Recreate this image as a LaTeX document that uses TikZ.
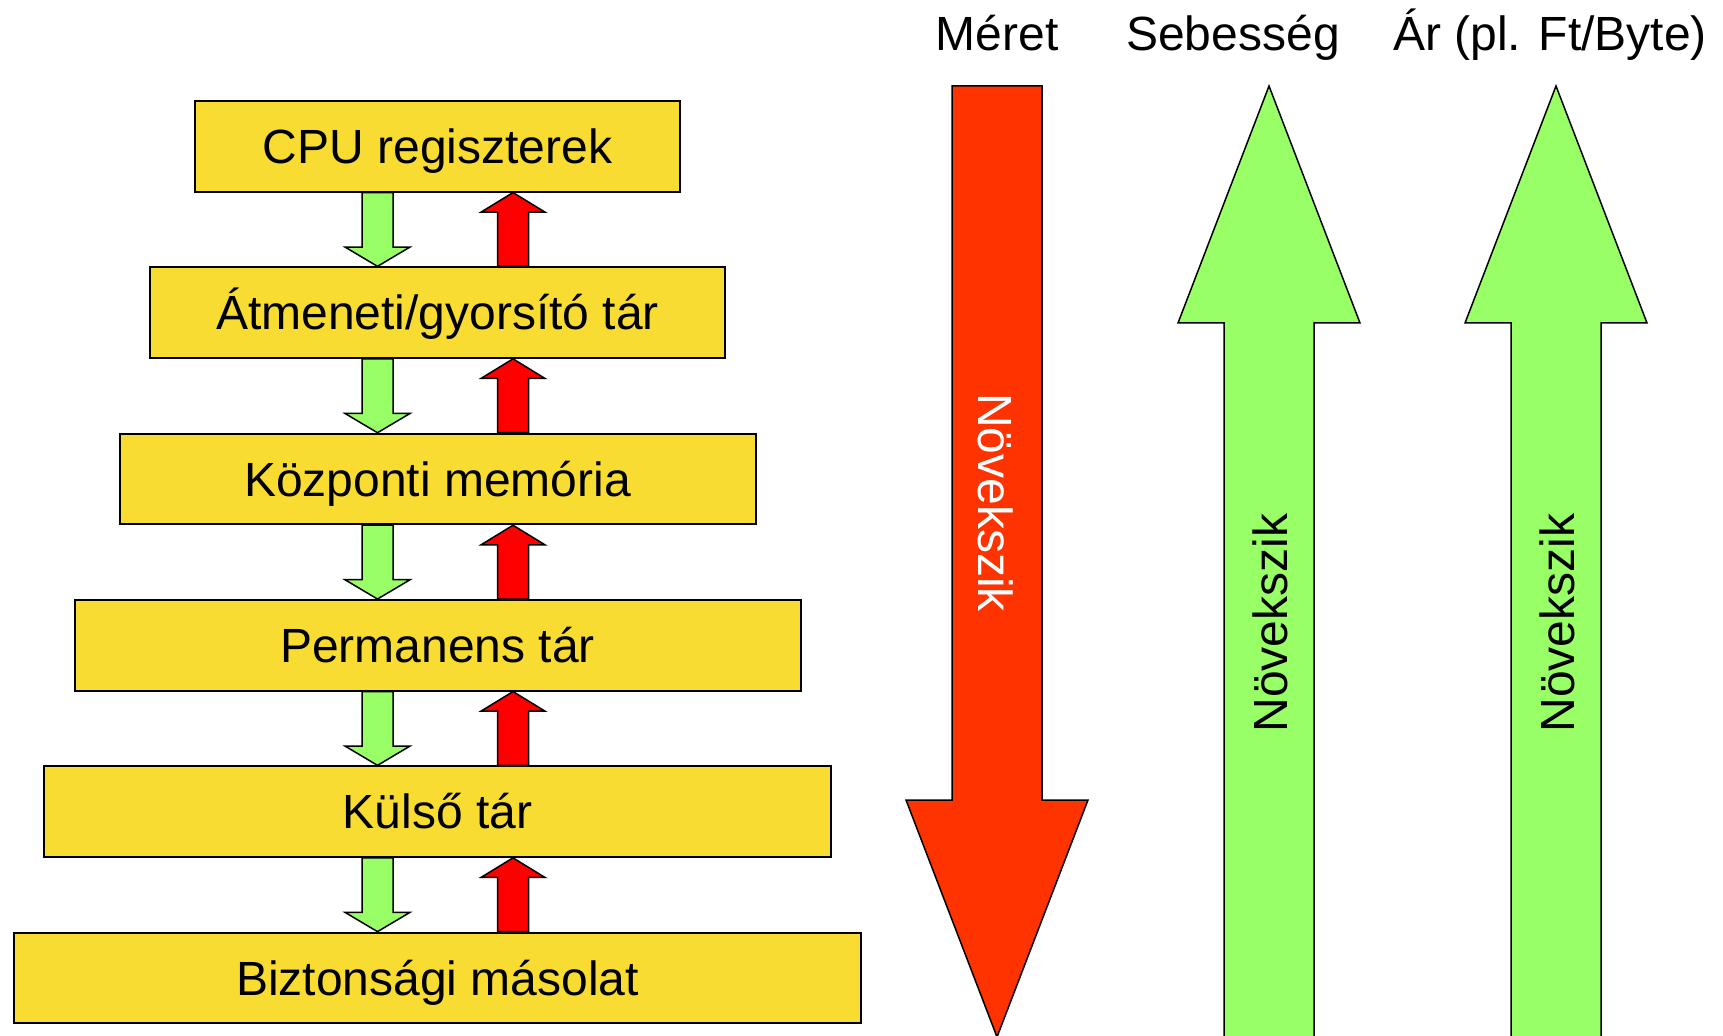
\documentclass[tikz,border=0pt]{standalone}
\usepackage{fontspec}
\setmainfont{Liberation Sans}
\usetikzlibrary{calc}
\definecolor{boxyellow}{HTML}{F8DC32}
\definecolor{flowgreen}{HTML}{99FF66}
\definecolor{flowred}{HTML}{FF0000}
\definecolor{sizered}{HTML}{FF3300}
\begin{document}
\begin{tikzpicture}[x=0.5pt,y=-0.5pt,
  font=\fontsize{24}{28}\selectfont,
  level/.style={draw=black,line width=1pt,fill=boxyellow,rectangle,
    minimum height=45.25pt,inner sep=0pt,text height=17.2pt,text depth=0pt},
  capcentered/.style={inner sep=0pt,text height=17.2pt,text depth=0pt},
  % block arrow pointing down from start to target
  downflow/.style={draw=black,line width=0.75pt,fill=flowgreen,line join=miter,
    to path={let \p1=(\tikztostart), \p2=(\tikztotarget) in
      (\x1-7.75pt,\y1) -- (\x1+7.75pt,\y1) -- (\x1+7.75pt,\y2+9.65pt)
      -- (\x1+16.25pt,\y2+9.65pt) -- (\x2,\y2) -- (\x1-16.25pt,\y2+9.65pt)
      -- (\x1-7.75pt,\y2+9.65pt) -- cycle}},
  % block arrow pointing up from start to target
  upflow/.style={draw=black,line width=0.75pt,fill=flowred,line join=miter,
    to path={let \p1=(\tikztostart), \p2=(\tikztotarget) in
      (\x1-7.75pt,\y1) -- (\x1+7.75pt,\y1) -- (\x1+7.75pt,\y2-9.8pt)
      -- (\x1+16pt,\y2-9.8pt) -- (\x2,\y2) -- (\x1-16pt,\y2-9.8pt)
      -- (\x1-7.75pt,\y2-9.8pt) -- cycle}},
  bigarrow/.style={draw=black,line width=0.75pt,line join=miter}
]
\useasboundingbox (0,0) rectangle (1723,1036);
\clip (0,0) rectangle (1723,1036);

% storage hierarchy
\node[level,minimum width=242.25pt] (cpu)   at (437.5,146.3) {CPU regiszterek};
\node[level,minimum width=287.25pt] (cache) at (437.5,312.6) {Átmeneti/gyorsító tár};
\node[level,minimum width=318pt]    (mem)   at (437.5,479.0) {Központi memória};
\node[level,minimum width=363pt]    (perm)  at (437.5,645.3) {Permanens tár};
\node[level,minimum width=393.5pt]  (ext)   at (437.5,811.6) {Külső tár};
\node[level,minimum width=423.75pt] (bak)   at (437.5,977.9) {Biztonsági másolat};

% columns of the transfer arrows
\coordinate (gx) at (377.5,0);
\coordinate (rx) at (513,0);

\foreach \a/\b in {cpu/cache,cache/mem,mem/perm,perm/ext,ext/bak}{
  \draw[downflow] (gx |- \a.south) to (gx |- \b.north);
  \draw[upflow]   (rx |- \b.north) to (rx |- \a.south);
}

% column headers
\node[anchor=base,inner sep=0pt] (hsize)  at (997,50.7)  {Méret};
\node[anchor=base,inner sep=0pt] (hspeed) at (1233,50.7) {Sebesség};
\node[anchor=base,inner sep=0pt] (hprice) at (1550,50.7) {Ár (pl. Ft/Byte)};

% size: grows downwards
\draw[bigarrow,fill=sizered]
  (952,86) -- (1042,86) -- (1042,800) -- (1088,800) -- (997,1037)
  -- (906,800) -- (952,800) -- cycle;
\node[capcentered,rotate=-90,text=white] (tsize) at (996,502.5) {Növekszik};

% speed: grows upwards
\draw[bigarrow,fill=flowgreen]
  (1224,1060) -- (1224,323) -- (1178,323) -- (1269,86) -- (1360,323)
  -- (1314,323) -- (1314,1060);
\node[capcentered,rotate=90] (tspeed) at (1270,623) {Növekszik};

% price: grows upwards
\draw[bigarrow,fill=flowgreen]
  (1511,1060) -- (1511,323) -- (1465,323) -- (1556,86) -- (1647,323)
  -- (1601,323) -- (1601,1060);
\node[capcentered,rotate=90] (tprice) at (1557,623) {Növekszik};
\end{tikzpicture}
\end{document}
